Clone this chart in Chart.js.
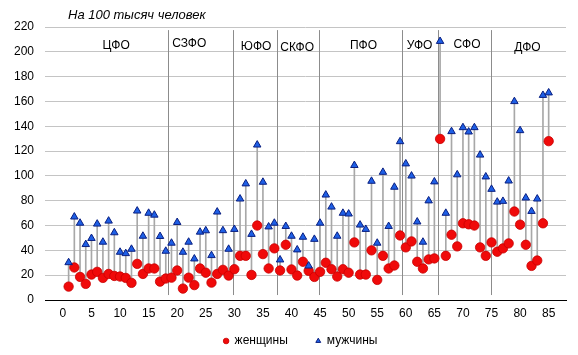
<!DOCTYPE html>
<html>
<head>
<meta charset="utf-8">
<script src="https://cdn.jsdelivr.net/npm/chart.js@4/dist/chart.umd.min.js"></script>
<style>
html,body{margin:0;padding:0;background:#fff;}
#wrap{width:578px;height:355px;position:relative;}
</style>
</head>
<body>
<div id="wrap"><canvas id="c"></canvas></div>
<script>
const regionIds = Array.from({length:85},(_,i)=>i+1);
const women = [10.8,26.2,18.6,13,20.5,22.7,17.8,21,19.4,18.9,17.8,13.8,29.1,21,25.4,25.4,14.8,17.3,18,23.8,9.2,18,12,25.4,22,14,21,24.3,19.7,24.8,35.6,35.6,20.2,60,37,25.4,41.6,23.8,44.5,24.6,19.7,30.8,23.5,18.6,22.7,30,24.8,18.9,24.8,22,46.4,20.5,20.5,40,16.2,35.6,25.4,27.8,52,42.4,47.2,30.8,25.4,32.7,33.5,129.8,35.6,52.6,43.2,61.8,61,60,42.4,35.6,46.4,38.9,41.6,45.6,71.3,60.7,44.5,27.5,31.8,61.8,128];
const men = [30.2,67,62,44.8,49.7,61.3,46.7,63.7,54.3,38.6,37.5,41,71.8,51.5,70,68.5,51.3,39.4,45.9,62.6,38.6,46.7,33.2,54.8,55.9,35.9,71,56,41,57,81.5,93.7,53,125,95,59,62,32.4,59.4,51.5,40.5,50.7,27.5,49,62,84.7,75,51.5,70,69.4,108.5,60.5,57,95.8,45.9,103,59.4,91,127.7,109.8,100,63,46.7,80,95.3,208.5,70,135.8,101,139,135.5,139,116.9,99.3,89.3,79,79.6,96,160,136.6,82.3,71.5,81.5,165,167];
const xTicks = [0,5,10,15,20,25,30,35,40,45,50,55,60,65,70,75,80,85];
const districtNames = ['ЦФО','СЗФО','ЮФО','СКФО','ПФО','УФО','СФО','ДФО'];
const districtLabelX = [9.3,22.1,33.8,41.0,52.6,62.4,70.7,81.3];
const districtLabelY = [205.1,206.5,204.3,203.2,205.1,205.1,206,203.2];
const districtBorders = [18.45,29.75,37.5,44.85,59.3,65.6,74.9];
const titleText = 'На 100 тысяч человек';
const seriesNames = ['женщины','мужчины'];

const FONT = "'Liberation Sans', Arial, sans-serif";

const overlay = {
  id:'overlay',
  afterLayout(chart){
    const lg = chart.legend;
    if (lg) { lg.top -= 15; lg.left -= 5; lg.right -= 5; }
  },
  beforeDatasetsDraw(chart){
    const {ctx, scales:{x,y}} = chart;
    ctx.save();
    ctx.strokeStyle = '#8c8c8c';
    ctx.lineWidth = 1;
    districtBorders.forEach(v=>{
      const px = Math.round(x.getPixelForValue(v))+0.5;
      ctx.beginPath();
      ctx.moveTo(px, y.getPixelForValue(217.5));
      ctx.lineTo(px, y.getPixelForValue(4));
      ctx.stroke();
    });
    ctx.restore();
  },
  afterDraw(chart){
    const {ctx, scales:{x,y}, chartArea} = chart;
    ctx.save();
    ctx.fillStyle = '#000';
    ctx.font = '12px ' + FONT;
    ctx.textAlign = 'center';
    ctx.textBaseline = 'middle';
    districtNames.forEach((n,i)=>{
      ctx.fillText(n, x.getPixelForValue(districtLabelX[i]), y.getPixelForValue(districtLabelY[i]));
    });
    ctx.font = 'italic 13px ' + FONT;
    ctx.textAlign = 'left';
    ctx.fillText(titleText, chartArea.left + 23, 15);
    ctx.restore();
  }
};

new Chart(document.getElementById('c'), {
  type:'scatter',
  data:{
    datasets:[
      {
        type:'bar',
        label:'range',
        data: regionIds.map((id,i)=>({x:id, y:[women[i], men[i]]})),
        backgroundColor:'#a8a8a8',
        barThickness:1,
        order:3
      },
      {
        label:seriesNames[0],
        data: regionIds.map((id,i)=>({x:id, y:women[i]})),
        pointStyle:'circle',
        pointRadius:4.7,
        backgroundColor:'#f00a0a',
        borderColor:'#c80000',
        borderWidth:0.8,
        order:2
      },
      {
        label:seriesNames[1],
        data: regionIds.map((id,i)=>({x:id, y:men[i]})),
        pointStyle:'triangle',
        pointRadius:4.3,
        backgroundColor:'#1e5fe6',
        borderColor:'#0a1f80',
        borderWidth:1,
        order:1
      }
    ]
  },
  options:{
    responsive:true,
    maintainAspectRatio:false,
    animation:false,
    layout:{padding:{top:27,right:12,bottom:2,left:0}},
    plugins:{
      legend:{
        position:'bottom',
        fullSize:false,
        maxHeight:31,
        labels:{
          filter:(item)=>item.text!=='range',
          sort:(a,b)=>a.datasetIndex-b.datasetIndex,
          usePointStyle:true,
          boxWidth:5,
          boxHeight:4,
          padding:28,
          color:'#000',
          font:{family:FONT,size:12}
        }
      },
      tooltip:{enabled:false},
      title:{display:false}
    },
    scales:{
      x:{
        type:'linear',
        min:-0.6,
        max:85.5,
        afterBuildTicks:(s)=>{ s.ticks = xTicks.map(v=>({value:v})); },
        afterFit:(s)=>{ s.height = 22; },
        grid:{display:false, drawTicks:false},
        border:{display:true,color:'#000',width:1},
        ticks:{color:'#000',font:{family:FONT,size:12},padding:6,maxRotation:0,autoSkip:false}
      },
      y:{
        min:0,
        max:220,
        afterFit:(s)=>{ s.width = 45; },
        grid:{color:'#c4c4c4',lineWidth:1,drawTicks:false},
        border:{display:false},
        ticks:{stepSize:20,color:'#000',font:{family:FONT,size:12},padding:11}
      }
    }
  },
  plugins:[overlay]
});
</script>
</body>
</html>
